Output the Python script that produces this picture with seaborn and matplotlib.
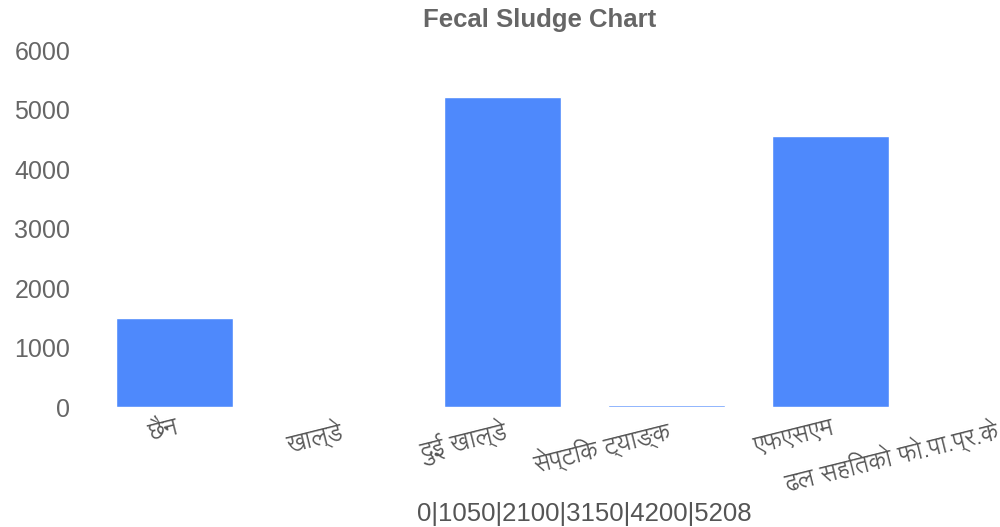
import matplotlib
matplotlib.use("Agg")
import matplotlib.pyplot as plt
import seaborn as sns
import pandas as pd

categories = ["छैन", "खाल्डे", "दुई खाल्डे", "सेप्टिक ट्याङ्क", "एफएसएम", "ढल सहितको फो.पा.प्र.के"]
values = [1500, 0, 5208, 30, 4560, 0]
y_ticks = [0, 1000, 2000, 3000, 4000, 5000, 6000]
x_label = "0|1050|2100|3150|4200|5208"
title = "Fecal Sludge Chart"

sns.set_theme(style="white")
plt.rcParams["font.family"] = ["Liberation Sans", "Lohit Devanagari", "DejaVu Sans"]

df = pd.DataFrame({"cat": categories, "val": values})

fig = plt.figure(figsize=(10, 5.27), dpi=100)
# plot area runs past the right edge, so the last slot is clipped like the original
ax = fig.add_axes([0.0925, 0.2277, 0.984, 0.6774])
sns.barplot(data=df, x="cat", y="val", color="#4e89fc", saturation=1,
            width=0.713, ax=ax)

ax.set_ylim(0, 6000)
ax.set_yticks(y_ticks)
ax.set_yticklabels([str(t) for t in y_ticks], fontsize=18, color="#666666")
ax.set_xticks(range(len(categories)))
ax.set_xticklabels(categories, rotation=14, ha="right", rotation_mode="anchor",
                   fontsize=17, color="#555555",
                   family=["Lohit Devanagari", "DejaVu Sans"])
ax.tick_params(axis="both", length=0)
ax.tick_params(axis="y", pad=16)
ax.tick_params(axis="x", pad=6)
sns.despine(ax=ax, left=True, bottom=True)
ax.set_ylabel("")
ax.set_xlabel(x_label, fontsize=18.5, color="#555555", va="center")
ax.xaxis.set_label_coords(0.5, -0.3)

fig.text(0.54, 0.962, title, ha="center", va="center", fontsize=18.5,
         fontweight="bold", color="#666666")

fig.savefig("out.png", dpi=100)
